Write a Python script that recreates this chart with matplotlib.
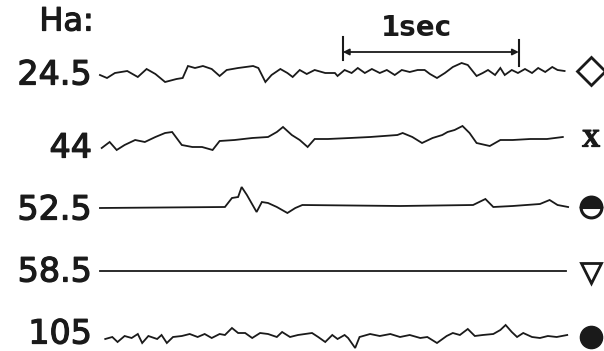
import matplotlib.pyplot as plt
import matplotlib.patheffects as pe

# Hartmann numbers of the five recordings
ha_labels = ['24.5', '44', '52.5', '58.5', '105']

# Fluctuation traces: time (ms) and amplitude (arbitrary units)
t_245 = [0, 40, 85, 155, 215, 265, 315, 370, 435, 470, 500, 540, 585, 635, 680,
         720, 785, 870, 900, 940, 975, 1025, 1065, 1095, 1135, 1175, 1220, 1280,
         1335, 1350, 1390, 1430, 1465, 1505, 1545, 1590, 1630, 1675, 1715, 1760,
         1805, 1845, 1875, 1915, 1960, 2005, 2055, 2090, 2140, 2175, 2205, 2245,
         2275, 2300, 2340, 2375, 2415, 2455, 2490, 2530, 2570, 2600, 2640]
a_245 = [-3, -6, -1, 1, -5, 3, -2, -10, -7, -6, 6, 4, 6, 3, -4,
         2, 4, 6, 4, -10, -3, 3, -1, -5, 2, -2, 2, -1,
         -1, -4, 2, -1, 4, -1, 3, -1, 2, -3, 2, 0,
         2, 2, -2, -6, -1, 5, 9, 7, -4, -1, 2, -3,
         4, -3, 2, -1, 3, -1, 4, 0, 5, 2, 1]

t_44 = [10, 55, 95, 140, 200, 255, 315, 370, 410, 465, 525, 580, 640, 680, 765,
        865, 955, 1005, 1040, 1090, 1135, 1180, 1220, 1295, 1420, 1535, 1690,
        1720, 1775, 1830, 1890, 1945, 1975, 2015, 2060, 2100, 2140, 2215, 2275,
        2345, 2445, 2540, 2630]
a_44 = [-8, -2, -10, -5, 0, -2, 3, 7, 8, -5, -7, -7, -10, -1, 0,
        2, 3, 8, 13, 5, 0, -7, 1, 1, 2, 3, 5,
        7, 3, -3, 2, 5, 8, 10, 14, 7, -3, -6, 0,
        0, 1, 1, 3]

t_525 = [0, 710, 750, 785, 805, 835, 890, 920, 955, 1005, 1065, 1110, 1150,
         1705, 2120, 2190, 2235, 2345, 2500, 2555, 2600, 2660]
a_525 = [-1, 0, 9, 10, 20, 12, -5, 5, 4, 0, -6, -1, 2,
         1, 2, 8, 0, 1, 3, 7, 2, 0]

t_585 = [0, 2650]
a_585 = [0, 0]

t_105 = [30, 70, 100, 140, 180, 215, 240, 275, 325, 350, 380, 415, 465, 510,
         555, 595, 635, 680, 710, 750, 785, 825, 865, 910, 955, 1005, 1035,
         1080, 1125, 1205, 1240, 1280, 1320, 1350, 1390, 1410, 1450, 1475,
         1535, 1590, 1650, 1705, 1760, 1820, 1860, 1915, 1970, 2005, 2045,
         2090, 2130, 2175, 2235, 2275, 2305, 2340, 2370, 2405, 2455, 2500,
         2545, 2595, 2655]
a_105 = [-3, -1, -6, 0, -2, 2, -7, 0, -3, 1, -7, -1, 0, 2,
         -1, 2, -2, 2, 1, 8, 3, 3, -2, 3, 2, -1, 4,
         -1, 1, 3, -1, -6, 1, -3, 1, -2, -12, -1,
         2, 0, 2, -1, 1, -2, -1, -7, 0, 3, 1,
         7, 0, 1, 2, 6, 11, 4, -1, 3, -1, -2,
         0, -1, 1]

traces = [(t_245, a_245), (t_44, a_44), (t_525, a_525), (t_585, a_585), (t_105, a_105)]

# vertical position of each trace (rows from top)
rows = [72, 140, 207, 271, 336]
label_y = [75, 148, 210, 272, 334]

fig = plt.figure(figsize=(6.04, 3.51), dpi=100)
ax = fig.add_axes([0, 0, 1, 1])
ax.set_xlim(-568, 2864)
ax.set_ylim(351, 0)
ax.axis('off')

ink = '#1a1a1a'
heavy = [pe.withStroke(linewidth=0.9, foreground=ink)]

for (t, a), row in zip(traces, rows):
    ax.plot(t, [row - v for v in a], color=ink, lw=1.3, solid_joinstyle='miter')

# row labels
ax.text(-190, 22, 'Ha:', fontsize=23, ha='center', va='center', color=ink,
        path_effects=heavy)
for lab, y in zip(ha_labels, label_y):
    ax.text(-45, y, lab, fontsize=24, ha='right', va='center', color=ink,
            path_effects=heavy)

# symbols at the end of each trace
mx = 2790
ax.plot(mx, 71, marker='D', ms=14, mfc='white', mec=ink, mew=2)
ax.text(mx, 140, 'X', fontsize=18, fontweight='bold', family='Liberation Serif',
        ha='center', va='center', color=ink, path_effects=heavy)
ax.plot(mx, 207, marker='o', ms=15, fillstyle='top', mfc=ink,
        markerfacecoloralt='white', mec=ink, mew=2.2)
ax.plot(mx, 273, marker='v', ms=15, mfc='white', mec=ink, mew=2)
ax.plot(mx, 337, marker='o', ms=16, mfc=ink, mec=ink)

# one-second scale bar
t0, dt = 1380, 1000
ax.annotate('', xy=(t0, 52), xytext=(t0 + dt, 52),
            arrowprops=dict(arrowstyle='<|-|>', color=ink, lw=1.3,
                            mutation_scale=9, shrinkA=0, shrinkB=0))
ax.plot([t0, t0], [37, 60], color=ink, lw=1.5)
ax.plot([t0 + dt, t0 + dt], [40, 66], color=ink, lw=1.5)
ax.text(t0 + 420, 28, '1sec', fontsize=20, fontweight='bold', ha='center',
        va='center', color=ink)

fig.savefig('out.png', dpi=100, facecolor='white')
